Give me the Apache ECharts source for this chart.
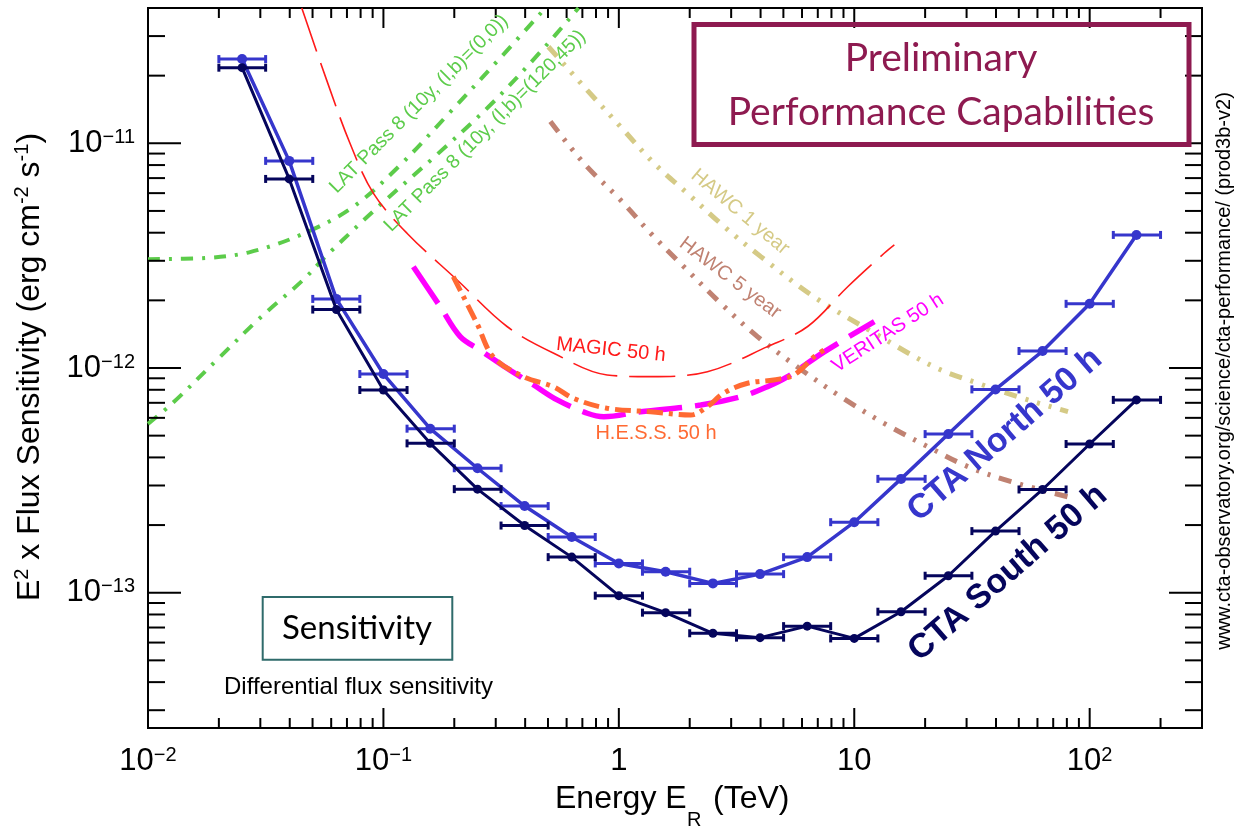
<!DOCTYPE html>
<html><head><meta charset="utf-8">
<script src="https://cdn.jsdelivr.net/npm/echarts@6/dist/echarts.min.js"></script>
<style>html,body{margin:0;padding:0;background:#fff}#c{width:1235px;height:826px}</style>
</head><body><div id="c"></div>
<script>
// ---------- data ----------
const energyCenter = [0.0251, 0.0398, 0.0631, 0.1, 0.158, 0.251, 0.398, 0.631, 1.0, 1.58, 2.51, 3.98, 6.31, 10, 15.8, 25.1, 39.8, 63.1, 100, 158];
const energyLow    = [0.02, 0.0316, 0.0501, 0.0794, 0.126, 0.2, 0.316, 0.501, 0.794, 1.26, 2.0, 3.16, 5.01, 7.94, 12.6, 20, 31.6, 50.1, 79.4, 126];
const energyHigh   = [0.0316, 0.0501, 0.0794, 0.126, 0.2, 0.316, 0.501, 0.794, 1.26, 2.0, 3.16, 5.01, 7.94, 12.6, 20, 31.6, 50.1, 79.4, 126, 200];
const ctaNorth = [2.37e-11, 8.35e-12, 2.03e-12, 9.4e-13, 5.37e-13, 3.58e-13, 2.43e-13, 1.77e-13, 1.35e-13, 1.24e-13, 1.10e-13, 1.21e-13, 1.44e-13, 2.06e-13, 3.21e-13, 5.08e-13, 8.03e-13, 1.19e-12, 1.93e-12, 3.91e-12];
const ctaSouth = [2.17e-11, 6.94e-12, 1.82e-12, 7.98e-13, 4.62e-13, 2.89e-13, 1.99e-13, 1.44e-13, 9.7e-14, 8.15e-14, 6.6e-14, 6.31e-14, 7.1e-14, 6.26e-14, 8.23e-14, 1.19e-13, 1.88e-13, 2.88e-13, 4.59e-13, 7.21e-13];

const latGalE = [0.01, 0.0178, 0.0271, 0.0455, 0.0743, 0.1178, 0.1922, 0.3138, 0.4877];
const latGalF = [3.05e-12, 3.09e-12, 3.28e-12, 3.95e-12, 5.21e-12, 8.0e-12, 1.378e-11, 2.40e-11, 4.0e-11];
const latHighE = [0.01, 0.01274, 0.0196, 0.0299, 0.0455, 0.0576, 0.0968, 0.1627, 0.2845, 0.4643, 0.674];
const latHighF = [5.64e-13, 6.99e-13, 1.085e-12, 1.67e-12, 2.46e-12, 3.18e-12, 5.31e-12, 8.60e-12, 1.48e-11, 2.55e-11, 4.0e-11];

const magicE = [0.045, 0.0574, 0.0721, 0.0907, 0.1259, 0.2052, 0.335, 0.529, 0.892, 1.364, 2.378, 4.28, 6.34, 9.38, 13.4, 14.8];
const magicF = [4.0e-11, 1.91e-11, 1.0e-11, 5.99e-12, 3.98e-12, 2.47e-12, 1.53e-12, 1.163e-12, 9.31e-13, 9.15e-13, 9.63e-13, 1.245e-12, 1.53e-12, 2.30e-12, 3.24e-12, 3.53e-12];

const hessE = [0.198, 0.2496, 0.293, 0.393, 0.527, 0.641, 0.892, 1.364, 2.02, 2.378, 2.79, 3.52, 4.55, 5.54, 6.74, 7.43];
const hessF = [2.55e-12, 1.58e-12, 1.12e-12, 9.15e-13, 8.26e-13, 7.33e-13, 6.62e-13, 6.39e-13, 6.18e-13, 6.73e-13, 7.74e-13, 8.55e-13, 8.85e-13, 9.31e-13, 1.12e-12, 1.20e-12];

const veritasE = [0.134, 0.1743, 0.212, 0.258, 0.335, 0.4348, 0.547, 0.734, 0.863, 1.237, 2.227, 3.295, 4.28, 5.21, 7.45, 12.17];
const veritasF = [2.82e-12, 1.875e-12, 1.38e-12, 1.20e-12, 9.97e-13, 8.40e-13, 7.21e-13, 6.29e-13, 6.07e-13, 6.39e-13, 6.84e-13, 7.45e-13, 8.26e-13, 9.15e-13, 1.18e-12, 1.61e-12];

const hawc1E = [0.502, 0.710, 1.017, 1.41, 1.955, 2.80, 4.01, 6.76, 12.17, 21.9, 33.5, 54.7, 80.9];
const hawc1F = [2.69e-11, 1.79e-11, 1.185e-11, 8.15e-12, 5.99e-12, 4.26e-12, 3.13e-12, 2.07e-12, 1.43e-12, 1.01e-12, 8.55e-13, 7.21e-13, 6.39e-13];

const hawc5E = [0.512, 0.710, 1.017, 1.364, 1.89, 2.71, 3.88, 5.74, 8.77, 13.4, 20.5, 30.4, 46.4, 80.9];
const hawc5F = [1.25e-11, 8.15e-12, 5.59e-12, 3.98e-12, 2.82e-12, 1.94e-12, 1.38e-12, 1.01e-12, 7.45e-13, 5.67e-13, 4.47e-13, 3.64e-13, 3.12e-13, 2.67e-13];

const xTickValues = [0.01, 0.1, 1, 10, 100];
const xTickLabels = [['10', '−2'], ['10', '−1'], ['1', ''], ['10', ''], ['10', '2']];
const yTickValues = [1e-13, 1e-12, 1e-11];
const yTickLabels = [['10', '−13'], ['10', '−12'], ['10', '−11']];
const xMinorTicks = [0.02,0.03,0.04,0.05,0.06,0.07,0.08,0.09, 0.2,0.3,0.4,0.5,0.6,0.7,0.8,0.9, 2,3,4,5,6,7,8,9, 20,30,40,50,60,70,80,90, 200,300];
const yMinorTicks = [3e-14,4e-14,5e-14,6e-14,7e-14,8e-14,9e-14, 2e-13,3e-13,4e-13,5e-13,6e-13,7e-13,8e-13,9e-13, 2e-12,3e-12,4e-12,5e-12,6e-12,7e-12,8e-12,9e-12, 2e-11,3e-11,4e-11];

const X_MIN = 0.01, X_MAX = 300, Y_MIN = 2.5e-14, Y_MAX = 4e-11;

// ---------- helpers ----------
const FONT = 'Liberation Sans';
const GILL = 'Lato';
const zip = (a, b) => a.map((v, i) => [v, b[i]]);
function findTick(vals, v) {
  const lv = Math.log10(v);
  for (let i = 0; i < vals.length; i++) if (Math.abs(Math.log10(vals[i]) - lv) < 1e-6) return i;
  return -1;
}
function tickFmt(vals, labels) {
  return function (v) {
    const i = findTick(vals, v);
    if (i < 0) return '';
    const l = labels[i];
    return l[1] ? '{n|' + l[0] + '}{s|' + l[1] + '}' : '{n|' + l[0] + '}';
  };
}
const labelRich = {
  n: { fontFamily: FONT, fontSize: 31, lineHeight: 32, color: '#000' },
  s: { fontFamily: FONT, fontSize: 20, lineHeight: 12, verticalAlign: 'top', color: '#000' }
};

function xTickItem(params, api) {
  const cs = params.coordSys;
  const x = api.coord([api.value(0), Y_MIN])[0];
  const len = api.value(2) ? 20 : 10;
  const b = cs.y + cs.height, t = cs.y;
  const st = { stroke: '#000', lineWidth: 2 };
  return { type: 'group', children: [
    { type: 'line', shape: { x1: x, y1: b, x2: x, y2: b - len }, style: st },
    { type: 'line', shape: { x1: x, y1: t, x2: x, y2: t + len }, style: st }
  ]};
}
function yTickItem(params, api) {
  const cs = params.coordSys;
  const y = api.coord([X_MIN, api.value(1)])[1];
  const len = api.value(2) ? 33 : 17;
  const l = cs.x, r = cs.x + cs.width;
  const st = { stroke: '#000', lineWidth: 2 };
  return { type: 'group', children: [
    { type: 'line', shape: { x1: l, y1: y, x2: l + len, y2: y }, style: st },
    { type: 'line', shape: { x1: r, y1: y, x2: r - len, y2: y }, style: st }
  ]};
}
function errItemFactory(color) {
  return function (params, api) {
    const y = api.value(2);
    const p1 = api.coord([api.value(0), y]);
    const p2 = api.coord([api.value(1), y]);
    const st = { stroke: color, lineWidth: 3 };
    return { type: 'group', children: [
      { type: 'line', shape: { x1: p1[0], y1: p1[1], x2: p2[0], y2: p2[1] }, style: st },
      { type: 'line', shape: { x1: p1[0], y1: p1[1] - 4, x2: p1[0], y2: p1[1] + 4 }, style: st },
      { type: 'line', shape: { x1: p2[0], y1: p2[1] - 4, x2: p2[0], y2: p2[1] + 4 }, style: st }
    ]};
  };
}

const C_NORTH = '#3636cc', C_SOUTH = '#05055c';
const C_GREEN = '#5ccc4a', C_RED = '#ff1a1a', C_HESS = '#ff6a33', C_VER = '#ff00ff';
const C_HAWC1 = '#d5ca86', C_HAWC5 = '#c08272';
const C_PRELIM = '#8e1a50', C_TEAL = '#2f6b6b';

function curve(name, e, f, color, width, dash) {
  return { name, type: 'line', data: zip(e, f), smooth: 0.35, showSymbol: false, symbol: 'none',
    lineStyle: { color, width, type: dash, cap: 'butt' }, z: 3, silent: true };
}

const chart = echarts.init(document.getElementById('c'), null, { renderer: 'canvas' });

function txt(text, x, y, size, color, rot, extra) {
  return Object.assign({ type: 'text', x, y, rotation: (rot || 0) * Math.PI / 180, z: 100,
    style: Object.assign({ text, fontFamily: FONT, fontSize: size, fill: color, align: 'center', verticalAlign: 'middle' }, extra || {}) });
}

const option = {
  animation: false,
  backgroundColor: '#fff',
  grid: { left: 148, right: 33, top: 8, bottom: 98, show: true, borderColor: '#000', borderWidth: 2, backgroundColor: 'transparent' },
  xAxis: { type: 'log', logBase: 10, min: X_MIN, max: X_MAX,
    axisLine: { show: false }, axisTick: { show: false }, splitLine: { show: false }, minorTick: { show: false },
    axisLabel: { margin: 17, formatter: tickFmt(xTickValues, xTickLabels), rich: labelRich, showMinLabel: true, showMaxLabel: true, hideOverlap: false } },
  yAxis: { type: 'log', logBase: 10, min: Y_MIN, max: Y_MAX,
    axisLine: { show: false }, axisTick: { show: false }, splitLine: { show: false },
    axisLabel: { margin: 13, formatter: tickFmt(yTickValues, yTickLabels), rich: labelRich, showMinLabel: true, showMaxLabel: true } },
  series: [
    { type: 'custom', renderItem: xTickItem, data: xTickValues.map(v => [v, Y_MIN, 1]).concat(xMinorTicks.map(v => [v, Y_MIN, 0])), encode: { x: 0, y: 1 }, silent: true, z: 10 },
    { type: 'custom', renderItem: yTickItem, data: yTickValues.map(v => [X_MIN, v, 1]).concat(yMinorTicks.map(v => [X_MIN, v, 0])), encode: { x: 0, y: 1 }, silent: true, z: 10 },
    curve('LAT (0,0)', latGalE, latGalF, C_GREEN, 4, [12, 9, 3, 9]),
    curve('LAT (120,45)', latHighE, latHighF, C_GREEN, 4, [12, 9, 3, 9]),
    curve('HAWC 1 year', hawc1E, hawc1F, C_HAWC1, 5, [13, 9, 3, 9, 3, 9, 3, 9]),
    curve('HAWC 5 year', hawc5E, hawc5F, C_HAWC5, 5, [13, 9, 3, 9, 3, 9, 3, 9]),
    curve('MAGIC 50 h', magicE, magicF, C_RED, 1.6, [46, 12]),
    curve('VERITAS 50 h', veritasE, veritasF, C_VER, 5.5, [44, 13]),
    curve('H.E.S.S. 50 h', hessE, hessF, C_HESS, 5, [16, 6, 4, 6]),
    { name: 'CTA North err', type: 'custom', renderItem: errItemFactory(C_NORTH), data: energyLow.map((l, i) => [l, energyHigh[i], ctaNorth[i]]), encode: { x: [0, 1], y: 2 }, z: 5, silent: true },
    { name: 'CTA South err', type: 'custom', renderItem: errItemFactory(C_SOUTH), data: energyLow.map((l, i) => [l, energyHigh[i], ctaSouth[i]]), encode: { x: [0, 1], y: 2 }, z: 6, silent: true },
    { name: 'CTA North 50 h', type: 'line', data: zip(energyCenter, ctaNorth), symbol: 'circle', symbolSize: 10,
      itemStyle: { color: C_NORTH }, lineStyle: { color: C_NORTH, width: 3.5 }, z: 5, silent: true },
    { name: 'CTA South 50 h', type: 'line', data: zip(energyCenter, ctaSouth), symbol: 'circle', symbolSize: 9,
      itemStyle: { color: C_SOUTH }, lineStyle: { color: C_SOUTH, width: 3 }, z: 6, silent: true }
  ],
  graphic: [
    // axis titles
    txt('{n|E}{s|2}{n| x Flux Sensitivity (erg cm}{s|-2}{n| s}{s|-1}{n|)}', 30, 367, 32, '#000', 90, {
      rich: { n: { fontFamily: FONT, fontSize: 32, lineHeight: 36, fill: '#000' }, s: { fontFamily: FONT, fontSize: 20, lineHeight: 14, verticalAlign: 'top', fill: '#000' } } }),
    txt('Energy E', 555, 799, 32, '#000', 0, { align: 'left' }),
    txt('R', 687, 820, 20, '#000', 0, { align: 'left' }),
    txt('(TeV)', 713, 799, 32, '#000', 0, { align: 'left' }),
    txt('www.cta-observatory.org/science/cta-performance/ (prod3b-v2)', 1224, 371, 20, '#000', 90),
    // preliminary box
    { type: 'rect', shape: { x: 694, y: 24.5, width: 495, height: 120 }, style: { fill: 'none', stroke: C_PRELIM, lineWidth: 5 }, z: 99 },
    txt('Preliminary', 941, 58, 39, C_PRELIM, 0, { fontFamily: GILL }),
    txt('Performance Capabilities', 941, 112, 39, C_PRELIM, 0, { fontFamily: GILL }),
    // sensitivity box
    { type: 'rect', shape: { x: 262.7, y: 597, width: 189.6, height: 62.7 }, style: { fill: 'none', stroke: C_TEAL, lineWidth: 2 }, z: 99 },
    txt('Sensitivity', 357, 628, 33, '#000', 0, { fontFamily: GILL }),
    txt('Differential flux sensitivity', 358.5, 687, 24, '#000', 0),
    // curve labels
    txt('CTA North 50 h', 1005, 435, 34, C_NORTH, 41, { fontWeight: 'bold' }),
    txt('CTA South 50 h', 1008, 573, 34, C_SOUTH, 41, { fontWeight: 'bold' }),
    txt('LAT Pass 8 (10y, (l,b)=(0,0))', 419, 104, 19.5, C_GREEN, 45),
    txt('LAT Pass 8 (10y, (l,b)=(120,45))', 485, 131, 19.5, C_GREEN, 45),
    txt('HAWC 1 year', 740, 212, 20, C_HAWC1, -40),
    txt('HAWC 5 year', 730, 278, 20, C_HAWC5, -37),
    txt('MAGIC 50 h', 611, 350, 20, C_RED, -6),
    txt('VERITAS 50 h', 888, 333, 20, C_VER, 33),
    txt('H.E.S.S. 50 h', 656, 433, 20, C_HESS, 0)
  ]
};
chart.setOption(option);
</script>
</body></html>
